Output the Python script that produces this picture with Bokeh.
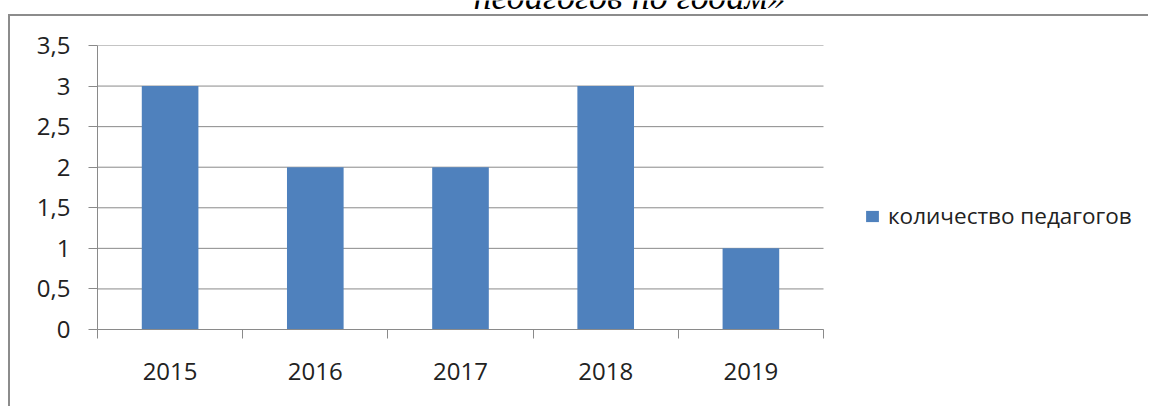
from bokeh.plotting import figure
from bokeh.layouts import column
from bokeh.models import (Range1d, FixedTicker, Legend, LegendItem, Label,
                          ColumnDataSource)
from bokeh.embed import file_html
from bokeh.resources import INLINE

# ---- data ----
years = ["2015", "2016", "2017", "2018", "2019"]
teachers = [3, 2, 2, 3, 1]
series_name = "количество педагогов"
y_ticks = [0, 0.5, 1, 1.5, 2, 2.5, 3, 3.5]
y_tick_labels = ["0", "0,5", "1", "1,5", "2", "2,5", "3", "3,5"]
title_line = "педагогов по годам»"

FONT = "Open Sans"
GRID = "#8a8a8a"
BORDER = "#8c8c8c"
BAR = "#4f81bd"
TXT = "#222222"

# ---- strip with the (cut-off) document title above the chart ----
t = figure(width=1150, height=14, output_backend="svg", toolbar_location=None,
           x_axis_location=None, y_axis_location=None, min_border=0,
           x_range=Range1d(0, 1), y_range=Range1d(0, 1))
t.outline_line_color = None
t.grid.visible = False
t.add_layout(Label(x=542, y=18, x_units="screen", y_units="screen",
                   text=title_line, text_align="center",
                   text_baseline="alphabetic", text_font="Liberation Serif",
                   text_font_style="italic", text_font_size="36px",
                   text_color="#000000"))

# ---- chart ----
W, H = 1140, 392
LEFT, BOTTOM, TOP = 87, 79, 29
PX_PER_CAT = 145.2
p = figure(width=W, height=H, output_backend="svg", toolbar_location=None,
           x_range=Range1d(0, (W - LEFT) / PX_PER_CAT),
           y_range=Range1d(0, 3.5),
           min_border_left=LEFT, min_border_right=0,
           min_border_top=TOP, min_border_bottom=BOTTOM)
p.margin = (0, 0, 0, 8)
p.styles = {"border-top": f"2px solid {BORDER}",
            "border-left": f"2px solid {BORDER}"}
p.outline_line_color = None
p.background_fill_color = "white"
p.border_fill_color = "white"

n = len(years)
xc = [i + 0.5 for i in range(n)]

# horizontal gridlines over the category span only
p.xgrid.visible = False
p.ygrid.visible = False
p.segment(x0=[0] * len(y_ticks), x1=[n] * len(y_ticks), y0=y_ticks,
          y1=y_ticks, line_color=GRID, line_width=1)

src = ColumnDataSource(dict(x=xc, top=teachers, year=years))
r = p.vbar(x="x", top="top", width=0.39, source=src, fill_color=BAR,
           line_color=None)

ya = p.yaxis[0]
ya.ticker = FixedTicker(ticks=y_ticks)
ya.major_label_overrides = {tk: l for tk, l in zip(y_ticks, y_tick_labels)}
ya.axis_line_color = GRID
ya.major_tick_line_color = GRID
ya.major_tick_out = 9
ya.major_tick_in = 0
ya.minor_tick_line_color = None
ya.major_label_standoff = 18
ya.major_label_text_font = FONT
ya.major_label_text_font_size = "24px"
ya.major_label_text_color = TXT

xa = p.xaxis[0]
xa.bounds = (0, n)
xa.ticker = FixedTicker(ticks=xc, minor_ticks=list(range(n + 1)))
xa.major_label_overrides = {x: y for x, y in zip(xc, years)}
xa.axis_line_color = GRID
xa.major_tick_line_color = None
xa.major_tick_out = 0
xa.major_tick_in = 0
xa.minor_tick_line_color = GRID
xa.minor_tick_out = 9
xa.minor_tick_in = 0
xa.major_label_standoff = 24
xa.major_label_text_font = FONT
xa.major_label_text_font_size = "24px"
xa.major_label_text_color = TXT

legend = Legend(items=[LegendItem(label=series_name, renderers=[r])],
                location=(767, 98), border_line_color=None,
                background_fill_alpha=0, padding=0, margin=0,
                glyph_width=16, glyph_height=14, label_standoff=8,
                label_text_font=FONT, label_text_font_size="22.5px",
                label_text_color=TXT)
p.add_layout(legend, "center")

page = column(t, p, spacing=0)
open("out.html", "w").write(file_html(page, INLINE))
